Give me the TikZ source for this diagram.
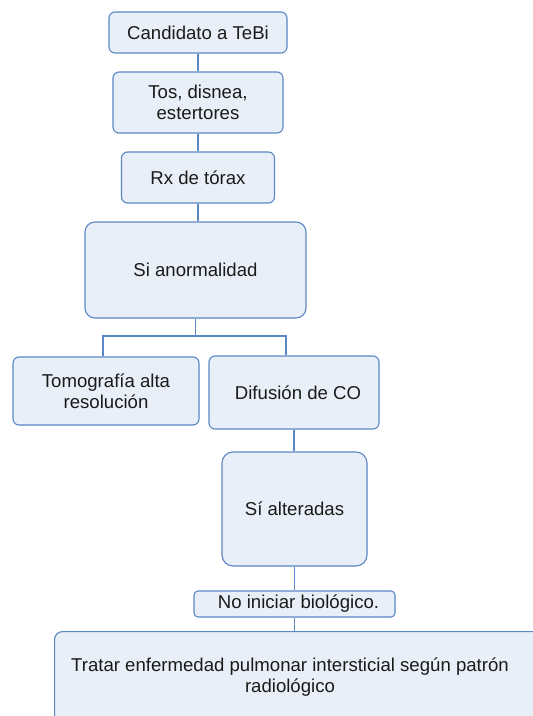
\documentclass[tikz,border=0pt]{standalone}
\usepackage{fontspec}
\setmainfont{Liberation Sans}
\definecolor{bfill}{HTML}{E9EFF8}
\definecolor{bline}{HTML}{5A87C5}
\definecolor{btext}{HTML}{1A1A1A}
\begin{document}
\begin{tikzpicture}[x=1pt,y=-1pt,
  box/.style={draw=bline, fill=bfill, line width=1.1pt, rounded corners=6pt, inner sep=0pt, align=center, text=btext, font=\fontsize{18.6}{21.5}\selectfont},
  conn/.style={draw=bline, line width=1.1pt}]
\useasboundingbox (0,0) rectangle (533,716);
\node[box, minimum width=178, minimum height=41] (b1) at (198,32.5) {Candidato a TeBi};
\node[box, minimum width=170, minimum height=61] (b2) at (198,102.5) {Tos, disnea,\\estertores};
\node[box, minimum width=153, minimum height=51] (b3) at (198,177.5) {Rx de tórax};
\node[box, rounded corners=10pt, minimum width=221, minimum height=96] (b4) at (195.5,270) {Si anormalidad};
\node[box, minimum width=186, minimum height=68] (b5) at (106,391) {Tomografía alta\\resolución};
\node[box, minimum width=170, minimum height=73] (b6) at (294,392.5) {\hspace*{8pt}Difusión de CO};
\node[box, rounded corners=11pt, minimum width=145, minimum height=114] (b7) at (294.5,509) {Sí alteradas};
\node[box, rounded corners=4pt, minimum width=201, minimum height=26] (b8) at (294.5,604) {\hspace*{8pt}No iniciar biológico.};
\node[box, rounded corners=8pt, minimum width=530, minimum height=130, anchor=north west] (b9) at (54,631) {};
\node[align=center, text=btext, inner sep=0pt, font=\fontsize{18.6}{21.5}\selectfont] (t9) at (290,677) {Tratar enfermedad pulmonar intersticial según patrón\\radiológico};
\coordinate (fl) at (103,336);
\coordinate (fr) at (286,336);
\draw[conn] (b1.south) -- (b2.north);
\draw[conn] (b2.south) -- (b3.north);
\draw[conn] (b3.south) -- (b3.south |- b4.north);
\draw[conn] (b4.south) -- (b4.south |- fl);
\draw[conn] (fl |- b5.north) -- (fl) -- (fr) -- (fr |- b6.north);
\draw[conn] (b6.south) -- (b6.south |- b7.north);
\draw[conn] (b7.south) -- (b7.south |- b8.north);
\draw[conn] (b8.south) -- (b8.south |- b9.north);
\end{tikzpicture}
\end{document}
